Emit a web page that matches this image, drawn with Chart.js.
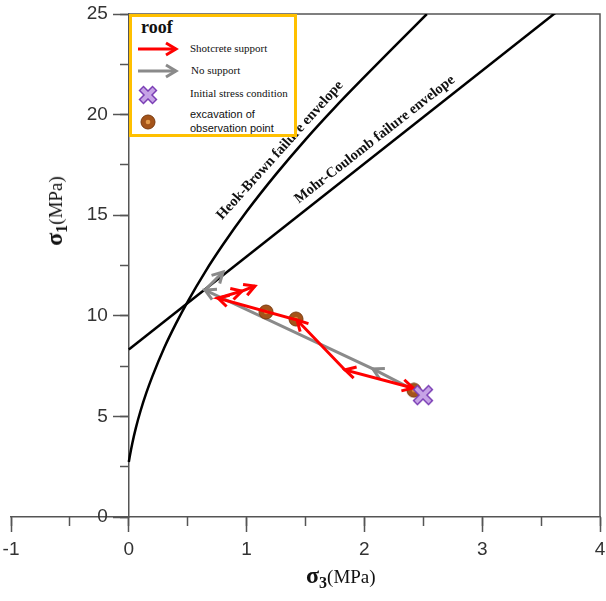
<!DOCTYPE html>
<html>
<head>
    <title>roof stress path</title>
    <script src="https://cdn.jsdelivr.net/npm/chart.js"></script>
    <style>
        body { margin: 0; background: #fff; }
        #wrap { position: relative; width: 606px; height: 601px; }
        #chart { position: absolute; left: 0; top: 0; }
        .legend-box {
            position: absolute; left: 129px; top: 14px; width: 162px; height: 117px;
            border: 3px solid #ffc000; background: #fff;
        }
        .legend-box .t { position: absolute; white-space: nowrap; color: #111; }
        .serif { font-family: 'Liberation Serif', 'Times New Roman', serif; font-size: 11px; }
        .sans { font-family: 'Liberation Sans', Arial, sans-serif; font-size: 11px; line-height: 14px; }
        .legend-box svg { position: absolute; }
        .axis-title {
            position: absolute; white-space: nowrap; color: #111;
            font-family: 'Liberation Serif', 'Times New Roman', serif; font-size: 19px;
        }
        .axis-title b { font-size: 24px; }
        .axis-title sub { font-size: 16px; font-weight: bold; vertical-align: -5px; }
    </style>
</head>
<body>
<div id="wrap">
    <canvas id="chart" width="606" height="601"></canvas>

    <div class="legend-box">
        <div class="t" style="left:9px;top:0px;font:bold 18px 'Liberation Serif',serif;">roof</div>
        <svg width="44" height="16" style="left:4px;top:24px">
            <line x1="2" y1="8" x2="40" y2="8" stroke="#ff0000" stroke-width="3"/>
            <polyline points="30,2 40,8 30,14" fill="none" stroke="#ff0000" stroke-width="3"/>
        </svg>
        <div class="t serif" style="left:58px;top:25px">Shotcrete support</div>
        <svg width="44" height="16" style="left:4px;top:46px">
            <line x1="2" y1="8" x2="40" y2="8" stroke="#8a8a8a" stroke-width="3"/>
            <polyline points="30,2 40,8 30,14" fill="none" stroke="#8a8a8a" stroke-width="3"/>
        </svg>
        <div class="t serif" style="left:59px;top:47px">No support</div>
        <svg width="20" height="20" style="left:6px;top:68px">
            <line x1="3" y1="3" x2="17" y2="17" stroke="#7b3fb5" stroke-width="7"/>
            <line x1="17" y1="3" x2="3" y2="17" stroke="#7b3fb5" stroke-width="7"/>
            <line x1="4" y1="4" x2="16" y2="16" stroke="#c6a3e6" stroke-width="4"/>
            <line x1="16" y1="4" x2="4" y2="16" stroke="#c6a3e6" stroke-width="4"/>
        </svg>
        <div class="t serif" style="left:58px;top:70px">Initial stress condition</div>
        <svg width="18" height="18" style="left:7px;top:96px">
            <circle cx="9" cy="9" r="7" fill="#a4541a" stroke="#7a3a0e" stroke-width="1"/>
            <circle cx="9" cy="9" r="2.3" fill="#e39a4a"/>
        </svg>
        <div class="t sans" style="left:58px;top:90px">excavation of<br>observation point</div>
    </div>

    <div class="axis-title" style="left:306px;top:562px"><b>σ<sub>3</sub></b>(MPa)</div>
    <div class="axis-title" style="left:56px;top:211px;transform:translate(-50%,-50%) rotate(-90deg);"><b>σ<sub>1</sub></b>(MPa)</div>
</div>

<script>
    // Hoek-Brown envelope
    const hoekS3 = [0, 0.01, 0.03, 0.06, 0.1, 0.15, 0.2, 0.3, 0.4, 0.5, 0.65, 0.8, 1.0, 1.25, 1.5, 1.75, 2.0, 2.25, 2.53];
    const hoekS1 = [2.73, 3.07, 3.67, 4.43, 5.28, 6.19, 6.99, 8.4, 9.61, 10.71, 12.2, 13.54, 15.18, 17.04, 18.76, 20.36, 21.87, 23.35, 25.0];
    // Mohr-Coulomb envelope
    const mohrS3 = [0, 3.62];
    const mohrS1 = [8.33, 25.05];
    // stress paths (sigma3, sigma1)
    const shotcreteS3 = [2.413, 1.835, 1.428, 0.757, 0.961, 1.071];
    const shotcreteS1 = [6.41, 7.31, 9.79, 10.88, 11.23, 11.48];
    const noSupportS3 = [2.437, 2.072, 0.647, 0.800];
    const noSupportS1 = [6.26, 7.36, 11.28, 12.18];
    const excavationS3 = [2.42, 1.165, 1.419];
    const excavationS1 = [6.30, 10.19, 9.84];
    const initialS3 = [2.497];
    const initialS1 = [6.06];
    const envelopeNames = ['Heok-Brown failure envelope', 'Mohr-Coulomb failure envelope'];

    const pts = (xs, ys) => xs.map((x, i) => ({ x: x, y: ys[i] }));

    function crossStyle() {
        const c = document.createElement('canvas');
        c.width = c.height = 22;
        const g = c.getContext('2d');
        const lines = (a, b, w, col) => {
            g.strokeStyle = col; g.lineWidth = w;
            g.beginPath(); g.moveTo(a, a); g.lineTo(b, b); g.moveTo(b, a); g.lineTo(a, b); g.stroke();
        };
        lines(3, 19, 7, '#7b3fb5');
        lines(4, 18, 4, '#c6a3e6');
        return c;
    }
    function dotStyle() {
        const c = document.createElement('canvas');
        c.width = c.height = 16;
        const g = c.getContext('2d');
        g.fillStyle = '#a4541a'; g.strokeStyle = '#7a3a0e'; g.lineWidth = 1;
        g.beginPath(); g.arc(8, 8, 7, 0, Math.PI * 2); g.fill(); g.stroke();
        g.fillStyle = '#d98a3a';
        g.beginPath(); g.arc(8, 8, 2.2, 0, Math.PI * 2); g.fill();
        return c;
    }

    // open arrow heads at the end of every segment of a path
    const arrowHeads = {
        id: 'arrowHeads',
        afterDatasetDraw(chart, args) {
            const ds = chart.data.datasets[args.index];
            if (!ds.arrows) return;
            const p = args.meta.data;
            const ctx = chart.ctx;
            const head = (from, to) => {
                const a = Math.atan2(to.y - from.y, to.x - from.x);
                const len = 12, spread = 0.5;
                ctx.beginPath();
                ctx.moveTo(to.x - len * Math.cos(a - spread), to.y - len * Math.sin(a - spread));
                ctx.lineTo(to.x, to.y);
                ctx.lineTo(to.x - len * Math.cos(a + spread), to.y - len * Math.sin(a + spread));
                ctx.stroke();
            };
            ctx.save();
            ctx.strokeStyle = ds.borderColor;
            ctx.lineWidth = ds.borderWidth;
            ctx.lineJoin = 'miter';
            for (let i = 1; i < p.length; i++) head(p[i - 1], p[i]);
            if (ds.startArrow) head(p[1], p[0]);
            ctx.restore();
        }
    };

    // box top/right edges, y tick labels left of the sigma3 = 0 axis, envelope captions
    const frameAndText = {
        id: 'frameAndText',
        beforeDatasetsDraw(chart) {
            const { ctx, scales: { x, y } } = chart;
            ctx.save();
            ctx.strokeStyle = '#555';
            ctx.lineWidth = 1.5;
            ctx.beginPath();
            ctx.moveTo(x.getPixelForValue(0), y.getPixelForValue(25));
            ctx.lineTo(x.getPixelForValue(4), y.getPixelForValue(25));
            ctx.lineTo(x.getPixelForValue(4), y.getPixelForValue(0));
            ctx.stroke();

            ctx.fillStyle = '#333';
            ctx.font = "19px 'Liberation Sans', Arial, sans-serif";
            ctx.textAlign = 'right';
            ctx.textBaseline = 'middle';
            const x0 = x.getPixelForValue(0) - 21;
            y.ticks.forEach(t => ctx.fillText(t.label, x0, y.getPixelForValue(t.value)));
            ctx.restore();
        },
        afterDatasetsDraw(chart) {
            const { ctx, scales: { x, y } } = chart;
            const captions = [
                { text: envelopeNames[0], at: [1.284, 18.22], angle: -48 },
                { text: envelopeNames[1], at: [2.088, 18.76], angle: -38 }
            ];
            ctx.save();
            ctx.fillStyle = '#111';
            ctx.font = "bold 14.5px 'Liberation Serif', serif";
            ctx.textAlign = 'center';
            ctx.textBaseline = 'middle';
            captions.forEach(c => {
                ctx.save();
                ctx.translate(x.getPixelForValue(c.at[0]), y.getPixelForValue(c.at[1]));
                ctx.rotate(c.angle * Math.PI / 180);
                ctx.fillText(c.text, 0, 0);
                ctx.restore();
            });
            ctx.restore();
        }
    };

    const tickFont = { family: "'Liberation Sans', Arial, sans-serif", size: 19 };
    const axisColor = '#555';

    new Chart(document.getElementById('chart'), {
        type: 'scatter',
        data: {
            datasets: [
                { label: envelopeNames[0], data: pts(hoekS3, hoekS1), showLine: true, borderColor: '#000', borderWidth: 2.5, pointRadius: 0, cubicInterpolationMode: 'monotone', order: 6 },
                { label: envelopeNames[1], data: pts(mohrS3, mohrS1), showLine: true, borderColor: '#000', borderWidth: 2.5, pointRadius: 0, order: 5 },
                { label: 'No support', data: pts(noSupportS3, noSupportS1), showLine: true, borderColor: '#8a8a8a', borderWidth: 3, pointRadius: 0, arrows: true, order: 4 },
                { label: 'excavation of observation point', data: pts(excavationS3, excavationS1), pointStyle: dotStyle(), pointRadius: 8, order: 3 },
                { label: 'Shotcrete support', data: pts(shotcreteS3, shotcreteS1), showLine: true, borderColor: '#ff0000', borderWidth: 3, pointRadius: 0, arrows: true, startArrow: true, order: 2 },
                { label: 'Initial stress condition', data: pts(initialS3, initialS1), pointStyle: crossStyle(), pointRadius: 11, order: 1 }
            ]
        },
        options: {
            responsive: false,
            animation: false,
            devicePixelRatio: 1,
            events: [],
            layout: { autoPadding: false, padding: { left: 11, right: 6, top: 14, bottom: 44 } },
            plugins: { legend: { display: false }, tooltip: { enabled: false } },
            scales: {
                x: {
                    type: 'linear', position: 'bottom', min: -1, max: 4,
                    ticks: { stepSize: 1, color: '#333', font: tickFont, padding: 6 },
                    grid: { drawOnChartArea: false, tickLength: 15, tickColor: axisColor, tickWidth: 1.5 },
                    border: { color: axisColor, width: 1.5 },
                    afterFit(s) { s.height = 40; s.paddingLeft = 0; s.paddingRight = 0; }
                },
                xMinor: {
                    type: 'linear', axis: 'x', position: { y: 0 }, min: -1, max: 4,
                    ticks: { stepSize: 0.5, display: false },
                    grid: { drawOnChartArea: false, tickLength: 9, tickColor: axisColor, tickWidth: 1.5 },
                    border: { display: false },
                    afterFit(s) { s.height = 0; s.paddingLeft = 0; s.paddingRight = 0; }
                },
                y: {
                    type: 'linear', axis: 'y', position: { x: 0 }, min: 0, max: 25,
                    ticks: { stepSize: 5, display: false },
                    grid: { drawOnChartArea: false, tickLength: 15, tickColor: axisColor, tickWidth: 1.5 },
                    border: { color: axisColor, width: 1.5 },
                    afterFit(s) { s.width = 0; s.paddingTop = 0; s.paddingBottom = 0; }
                },
                yMinor: {
                    type: 'linear', axis: 'y', position: { x: 0 }, min: 0, max: 25,
                    ticks: { stepSize: 2.5, display: false },
                    grid: { drawOnChartArea: false, tickLength: 9, tickColor: axisColor, tickWidth: 1.5 },
                    border: { display: false },
                    afterFit(s) { s.width = 0; s.paddingTop = 0; s.paddingBottom = 0; }
                }
            }
        },
        plugins: [arrowHeads, frameAndText]
    });
</script>
</body>
</html>
